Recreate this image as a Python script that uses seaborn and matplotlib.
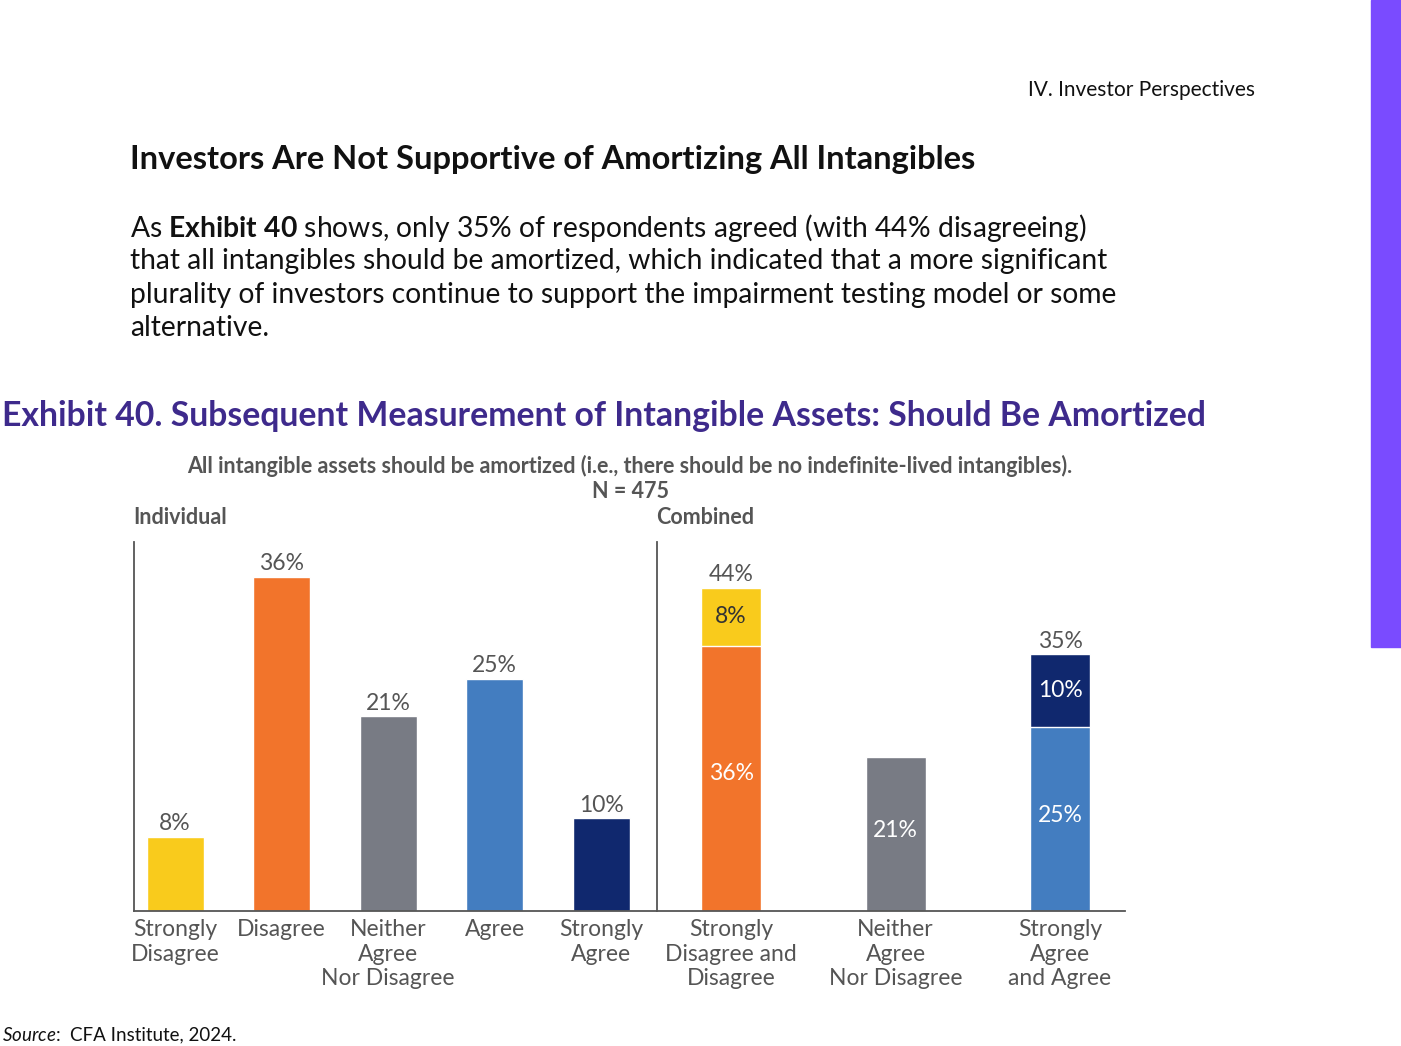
import matplotlib
matplotlib.use("Agg")
import matplotlib.pyplot as plt
import seaborn as sns
import pandas as pd

ind_labels = ["Strongly\nDisagree", "Disagree", "Neither\nAgree\nNor Disagree", "Agree", "Strongly\nAgree"]
ind_values = [8, 36, 21, 25, 10]
ind_colors = ["#F9CB1C", "#F2742B", "#787B84", "#437DC0", "#10286E"]

comb_labels = ["Strongly\nDisagree and\nDisagree", "Neither\nAgree\nNor Disagree", "Strongly\nAgree\nand Agree"]
comb_totals = [44, 21, 35]
comb_top = [8, 0, 10]
comb_base = [36, 21, 25]
top_colors = ["#F9CB1C", "#787B84", "#10286E"]
base_colors = ["#F2742B", "#787B84", "#437DC0"]

sns.set_style("white")
plt.rcParams['font.family'] = ['Lato', 'DejaVu Sans']
plt.rcParams['mathtext.fontset'] = 'custom'
plt.rcParams['mathtext.rm'] = 'Lato'
plt.rcParams['mathtext.bf'] = 'Lato:bold'
plt.rcParams['mathtext.it'] = 'Lato:italic'

W, H = 1401, 1046
fig = plt.figure(figsize=(W/100, H/100), dpi=100)

def ax_rect(x0, y0, x1, y1):
    return [x0/W, 1-y1/H, (x1-x0)/W, (y1-y0)/H]

fig.add_artist(plt.Rectangle((1371/W, 1-647/H), 30/W, 647/H, color="#7A4BFF", transform=fig.transFigure))
fig.text(1255/W, 1-90/H, "IV. Investor Perspectives", ha="right", va="center", fontsize=15, color="#111111")
fig.text(130/W, 1-159/H, "Investors Are Not Supportive of Amortizing All Intangibles", ha="left", va="center", fontsize=23.5, color="#111111", fontweight="bold")
para = [r"As $\bf{Exhibit\ 40}$ shows, only 35% of respondents agreed (with 44% disagreeing)",
        "that all intangibles should be amortized, which indicated that a more significant",
        "plurality of investors continue to support the impairment testing model or some",
        "alternative."]
for i, line in enumerate(para):
    fig.text(130/W, 1-(228+33.5*i)/H, line, ha="left", va="center", fontsize=20.3, color="#111111")
fig.text(2/W, 1-416/H, "Exhibit 40. Subsequent Measurement of Intangible Assets: Should Be Amortized", ha="left", va="center", fontsize=24.3, color="#3E2A8C", fontweight="bold")
fig.text(630/W, 1-466/H, "All intangible assets should be amortized (i.e., there should be no indefinite-lived intangibles).", ha="center", va="center", fontsize=15.5, color="#555555", fontweight="bold")
fig.text(630/W, 1-491/H, "N = 475", ha="center", va="center", fontsize=15.5, color="#555555", fontweight="bold")
fig.text(133/W, 1-518/H, "Individual", ha="left", va="center", fontsize=15.5, color="#555555", fontweight="bold")
fig.text(656/W, 1-518/H, "Combined", ha="left", va="center", fontsize=15.5, color="#555555", fontweight="bold")
fig.text(2/W, 1-1035/H, r"$\it{Source}$:", ha="left", va="center", fontsize=13.5, color="#111111")
fig.text(70/W, 1-1035/H, "CFA Institute, 2024.", ha="left", va="center", fontsize=13.5, color="#111111")

ax1 = fig.add_axes(ax_rect(134, 542, 656, 911))
df1 = pd.DataFrame({"cat": ind_labels, "val": ind_values})
sns.barplot(data=df1, x="cat", y="val", hue="cat", palette=ind_colors, width=0.535, legend=False, ax=ax1, saturation=1)
ax1.set_xlim(-0.385, 4.515)
ax1.set_ylim(0, 39.8)
for i, v in enumerate(ind_values):
    ax1.text(i, v + 0.3, f"{v}%", ha="center", va="bottom", fontsize=16.5, color="#555555")

ax2 = fig.add_axes(ax_rect(657, 542, 1125, 911))
df2 = pd.DataFrame({"cat": comb_labels, "total": comb_totals, "base": comb_base})
sns.barplot(data=df2, x="cat", y="total", hue="cat", palette=top_colors, width=0.365, legend=False, ax=ax2, saturation=1)
sns.barplot(data=df2, x="cat", y="base", hue="cat", palette=base_colors, width=0.365, legend=False, ax=ax2, saturation=1)
ax2.set_xlim(-0.45, 2.395)
ax2.set_ylim(0, 50.2)
for i in range(3):
    if comb_top[i]:
        ax2.text(i, comb_totals[i] + 0.3, f"{comb_totals[i]}%", ha="center", va="bottom", fontsize=16.5, color="#555555")
        ax2.text(i, comb_base[i] + comb_top[i] / 2, f"{comb_top[i]}%", ha="center", va="center", fontsize=16.5,
                 color="#333333" if i == 0 else "white")
    ax2.text(i, comb_base[i] * 0.52, f"{comb_base[i]}%", ha="center", va="center", fontsize=16.5, color="white")

for ax in (ax1, ax2):
    ax.set_xlabel("")
    ax.set_ylabel("")
    ax.set_yticks([])
    ax.tick_params(axis="x", length=0, labelsize=16.5, labelcolor="#555555", pad=6)
    for s in ("top", "right"):
        ax.spines[s].set_visible(False)
    for s in ("left", "bottom"):
        ax.spines[s].set_color("#555555")
        ax.spines[s].set_linewidth(1.3)
    ax.set_facecolor("none")

fig.savefig("out.png", dpi=100)
